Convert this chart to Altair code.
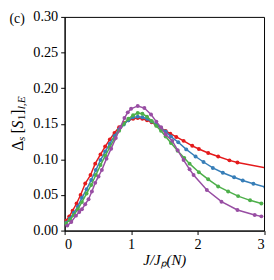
import altair as alt
import pandas as pd

red_x = [0.02,0.07,0.12,0.18,0.24,0.31,0.39,0.46,0.54,0.61,0.68,0.75,0.82,0.89,0.96,1.03,1.10,1.17,1.24,1.31,1.38,1.45,1.52,1.59,1.68,1.79,1.92,2.02,2.16,2.31,2.48,2.60,3.20]
red_y = [0.014,0.020,0.028,0.038,0.050,0.066,0.078,0.094,0.107,0.118,0.128,0.137,0.145,0.151,0.155,0.157,0.158,0.157,0.155,0.152,0.148,0.144,0.140,0.136,0.1315,0.126,0.119,0.1146,0.109,0.104,0.0986,0.0955,0.0852]

blue_x = [0.02,0.08,0.14,0.20,0.26,0.33,0.40,0.47,0.54,0.61,0.68,0.75,0.82,0.89,0.96,1.03,1.10,1.17,1.24,1.31,1.38,1.45,1.52,1.60,1.71,1.83,1.97,2.09,2.23,2.38,2.55,2.68,2.84,3.02]
blue_y = [0.011,0.017,0.025,0.034,0.046,0.058,0.071,0.085,0.099,0.111,0.122,0.133,0.142,0.149,0.155,0.159,0.160,0.159,0.157,0.153,0.149,0.144,0.139,0.132,0.124,0.114,0.104,0.0963,0.088,0.0812,0.0749,0.0703,0.0658,0.0612]

green_x = [0.02,0.08,0.14,0.20,0.26,0.33,0.40,0.47,0.54,0.61,0.68,0.75,0.82,0.89,0.96,1.03,1.10,1.17,1.24,1.31,1.38,1.45,1.52,1.60,1.70,1.80,1.88,2.02,2.16,2.31,2.46,2.61,2.79,2.96]
green_y = [0.010,0.015,0.022,0.030,0.040,0.052,0.064,0.078,0.092,0.105,0.117,0.129,0.140,0.150,0.157,0.162,0.165,0.164,0.160,0.154,0.147,0.140,0.132,0.123,0.112,0.102,0.094,0.082,0.072,0.062,0.055,0.0484,0.0425,0.038]

purple_x = [0.04,0.10,0.17,0.22,0.26,0.31,0.36,0.41,0.46,0.51,0.56,0.63,0.70,0.77,0.84,0.90,0.95,1.00,1.10,1.20,1.30,1.38,1.45,1.52,1.62,1.70,1.79,1.88,1.94,2.14,2.36,2.60,2.86,2.96]
purple_y = [0.007,0.012,0.021,0.026,0.030,0.037,0.044,0.055,0.067,0.076,0.085,0.101,0.115,0.130,0.145,0.158,0.166,0.171,0.175,0.172,0.163,0.153,0.145,0.135,0.126,0.113,0.099,0.086,0.078,0.057,0.0406,0.029,0.022,0.020]

series = [("a", red_x, red_y), ("b", blue_x, blue_y), ("c", green_x, green_y), ("d", purple_x, purple_y)]
colors = ["#e41a1c", "#377eb8", "#4daf4a", "#984ea3"]

# y-axis title pieces: text, is-subscript, italic, offset along the axis (px from plot top)
title_text = ["Δ", "s", "[", "S", "1", "]", "l,E"]
title_sub = [False, True, False, False, True, False, True]
title_ital = [False, True, False, True, False, False, True]
title_pos = [136, 126, 118.5, 113.2, 105, 99.3, 93.8]

rows = []
for name, xs, ys in series:
    for i, (x, y) in enumerate(zip(xs, ys)):
        rows.append({"s": name, "x": x, "y": y, "i": i})
df = pd.DataFrame(rows)

FONT = "Liberation Serif"
PLOT_H = 217

xenc = alt.X("x:Q", scale=alt.Scale(domain=[0, 3], nice=False, zero=False),
             axis=alt.Axis(values=[0, 1, 2, 3], format="d", title="J/Jₚ(N)",
                           titleFontStyle="italic", titlePadding=2))
yenc = alt.Y("y:Q", scale=alt.Scale(domain=[0, 0.30], nice=False),
             axis=alt.Axis(values=[0, 0.05, 0.10, 0.15, 0.20, 0.25, 0.30], format=".2f",
                           title=""))
cenc = alt.Color("s:N", scale=alt.Scale(domain=["a", "b", "c", "d"], range=colors), legend=None)

label = alt.Chart(pd.DataFrame({"t": ["(c)"]})).mark_text(
    font=FONT, fontSize=14, align="left", baseline="middle").encode(
    text="t:N", x=alt.value(-56), y=alt.value(2))

title_layers = []
for t, sb, it, p in zip(title_text, title_sub, title_ital, title_pos):
    title_layers.append(
        alt.Chart(pd.DataFrame({"t": [t]})).mark_text(
            font=FONT, fontSize=11.5 if sb else 16,
            fontStyle="italic" if it else "normal", angle=270,
            align="left", baseline="alphabetic", color="black").encode(
            text="t:N", x=alt.value(-40 if sb else -42.5), y=alt.value(p)))

layers = []
for name in ["a", "b", "c", "d"]:
    sub = df[df.s == name]
    layers.append(alt.Chart(sub).mark_line(strokeWidth=1.5, clip=True).encode(
        x=xenc, y=yenc, color=cenc, order="i:Q"))
    layers.append(alt.Chart(sub).mark_circle(size=16, opacity=1, clip=True).encode(
        x=xenc, y=yenc, color=cenc))

chart = alt.layer(*layers, label, *title_layers).properties(
    width=202.5, height=PLOT_H,
    autosize=alt.AutoSizeParams(type="none"),
    padding={"left": 57.5, "top": 7, "right": 2, "bottom": 40},
).configure_view(stroke="black", strokeWidth=1).configure_axis(
    labelFont=FONT, titleFont=FONT, labelFontSize=14.5, titleFontSize=15,
    labelColor="black", titleColor="black", titleFontWeight="normal",
    domainColor="black", tickColor="black", tickSize=4, labelPadding=3,
    grid=False,
)

chart.save("out.html", embed_options={"renderer": "svg", "actions": False})
